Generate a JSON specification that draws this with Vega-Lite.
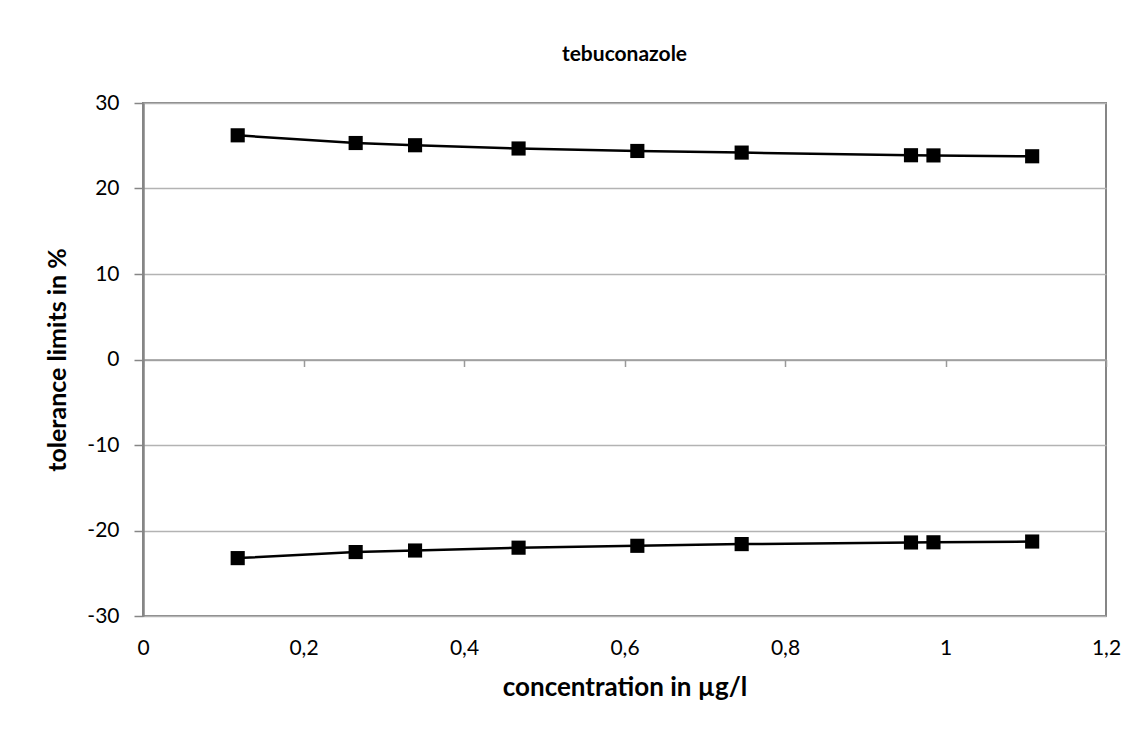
{
  "$schema": "https://vega.github.io/schema/vega-lite/v6.json",
  "width": 963,
  "height": 513,
  "autosize": {"type": "none"},
  "padding": {"left": 143, "top": 103, "right": 35, "bottom": 120},
  "background": "white",
  "config": {
    "font": "Lato",
    "view": {"stroke": "#868686", "strokeWidth": 2}
  },
  "title": {
    "text": "tebuconazole",
    "font": "Lato",
    "fontSize": 21,
    "fontWeight": "bold",
    "color": "black",
    "anchor": "middle",
    "frame": "group",
    "offset": 27
  },
  "data": {
    "values": [
      {"concentration": 0.118, "tolerance": 26.22, "limit": "upper"},
      {"concentration": 0.265, "tolerance": 25.32, "limit": "upper"},
      {"concentration": 0.339, "tolerance": 25.06, "limit": "upper"},
      {"concentration": 0.468, "tolerance": 24.68, "limit": "upper"},
      {"concentration": 0.616, "tolerance": 24.39, "limit": "upper"},
      {"concentration": 0.746, "tolerance": 24.2, "limit": "upper"},
      {"concentration": 0.957, "tolerance": 23.89, "limit": "upper"},
      {"concentration": 0.985, "tolerance": 23.87, "limit": "upper"},
      {"concentration": 1.108, "tolerance": 23.77, "limit": "upper"},
      {"concentration": 0.118, "tolerance": -23.23, "limit": "lower"},
      {"concentration": 0.265, "tolerance": -22.52, "limit": "lower"},
      {"concentration": 0.339, "tolerance": -22.34, "limit": "lower"},
      {"concentration": 0.468, "tolerance": -22.01, "limit": "lower"},
      {"concentration": 0.616, "tolerance": -21.79, "limit": "lower"},
      {"concentration": 0.746, "tolerance": -21.59, "limit": "lower"},
      {"concentration": 0.957, "tolerance": -21.4, "limit": "lower"},
      {"concentration": 0.985, "tolerance": -21.38, "limit": "lower"},
      {"concentration": 1.108, "tolerance": -21.29, "limit": "lower"}
    ]
  },
  "layer": [
    {
      "mark": {"type": "line", "color": "black", "strokeWidth": 2.5},
      "encoding": {
        "x": {
          "field": "concentration",
          "type": "quantitative",
          "scale": {"domain": [0, 1.2], "nice": false, "zero": false},
          "axis": {
            "orient": "bottom",
            "values": [0, 0.2, 0.4, 0.6, 0.8, 1, 1.2],
            "labelExpr": "replace(toString(datum.value), '.', ',')",
            "domain": false,
            "ticks": false,
            "grid": false,
            "labelFont": "Lato",
            "labelFontSize": 21,
            "labelColor": "black",
            "labelPadding": 21,
            "labelFlush": false,
            "title": "concentration in µg/l",
            "titleFont": "Lato",
            "titleFontSize": 26,
            "titleFontWeight": "bold",
            "titleColor": "black",
            "titlePadding": 16
          }
        },
        "y": {
          "field": "tolerance",
          "type": "quantitative",
          "scale": {"domain": [-30, 30], "nice": false, "zero": false},
          "axis": {
            "values": [-30, -20, -10, 0, 10, 20, 30],
            "labelExpr": "toString(datum.value)",
            "domain": true,
            "domainColor": "#868686",
            "domainWidth": 2.5,
            "ticks": true,
            "tickColor": "#868686",
            "tickSize": 9,
            "tickWidth": 1.5,
            "grid": true,
            "gridColor": "#b3b3b3",
            "gridWidth": 1.5,
            "labelFont": "Lato",
            "labelFontSize": 21,
            "labelColor": "black",
            "labelPadding": 15,
            "title": "tolerance limits in %",
            "titleFont": "Lato",
            "titleFontSize": 25,
            "titleFontWeight": "bold",
            "titleColor": "black",
            "titlePadding": 16
          }
        },
        "detail": {"field": "limit"}
      }
    },
    {
      "mark": {"type": "point", "shape": "square", "filled": true, "color": "black", "size": 200, "opacity": 1},
      "encoding": {
        "x": {
          "field": "concentration",
          "type": "quantitative",
          "scale": {"domain": [0, 1.2], "nice": false, "zero": false},
          "axis": {
            "orient": "bottom",
            "offset": -256.5,
            "values": [0, 0.2, 0.4, 0.6, 0.8, 1, 1.2],
            "domain": true,
            "domainColor": "#9a9a9a",
            "domainWidth": 1.5,
            "ticks": true,
            "tickColor": "#9a9a9a",
            "tickSize": 7,
            "tickWidth": 1.5,
            "labels": false,
            "grid": false,
            "title": null
          }
        },
        "y": {"field": "tolerance", "type": "quantitative"}
      }
    }
  ],
  "resolve": {"axis": {"x": "independent"}}
}
